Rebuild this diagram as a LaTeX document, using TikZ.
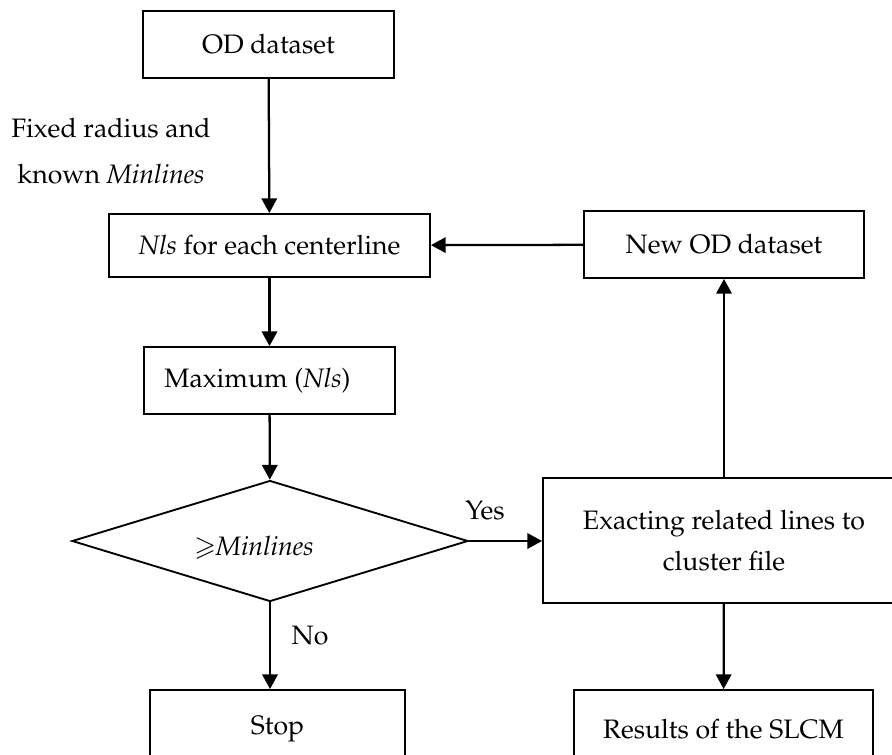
\documentclass[tikz,border=0pt]{standalone}
\usepackage[T1]{fontenc}
\usepackage{amsmath, amssymb}
\usepackage{mathpazo}
\usepackage{tikz}
\usetikzlibrary{shapes.geometric,arrows.meta}

\tikzset{
  flowbox/.style={draw, line width=1.4pt, inner sep=0.75pt, align=center,
    font=\fontsize{20}{30.75}\selectfont},
  decbox/.style={draw, diamond, line width=1.4pt, inner sep=0pt, aspect=3.27,
    minimum width=297pt, minimum height=90.75pt, font=\fontsize{20}{23}\selectfont},
  flowarrow/.style={line width=1.7pt, -{Triangle[length=11pt,width=11.5pt]}},
  txtlabel/.style={inner sep=0.75pt, align=center, font=\fontsize{20}{34.5}\selectfont}
}

\begin{document}
\begin{tikzpicture}[x=0.75pt,y=0.75pt,yscale=-1,xscale=1]
\clip (0,0) rectangle (892,754);

%Shape: Rectangle
\node [flowbox, minimum width=188.25pt, minimum height=50.25pt] (od) at (268.5,44.5) {OD dataset};
%Shape: Rectangle
\node [flowbox, minimum width=240.75pt, minimum height=47.25pt] (nls) at (269.5,245.5) {\textit{Nls} for each centerline};
%Shape: Rectangle
\node [flowbox, minimum width=210pt, minimum height=50.25pt] (newod) at (724,244.5) {New OD dataset};
%Shape: Rectangle
\node [flowbox, minimum width=188.25pt, minimum height=50.25pt] (maxnls) at (269.5,380.5) {Maximum (\textit{Nls})\hspace*{18pt}};
%Shape: Diamond
\node [decbox] (dec) at (270,541) {\raisebox{-11pt}[0pt][0pt]{$\geqslant$\textit{Minlines}}\hspace*{24pt}};
%Shape: Rectangle
\node [flowbox, minimum width=271.5pt, minimum height=93.75pt] (exact) at (724,540.5) {Exacting related lines to\\ cluster file};
%Shape: Rectangle
\node [flowbox, minimum width=191.25pt, minimum height=58.5pt] (stop) at (277.5,729) {Stop};
%Shape: Rectangle
\node [flowbox, minimum width=224.25pt, minimum height=58.5pt] (results) at (723.5,729) {Results of the SLCM};

%Straight Lines
\draw [flowarrow] (od) -- (nls);
\draw [flowarrow] (nls) -- (maxnls);
\draw [flowarrow] (maxnls) -- (dec);
\draw [flowarrow] (newod) -- (nls);
\draw [flowarrow] (dec.east) -- (exact.west |- dec.east);
\draw [flowarrow] (exact) -- (newod);
\draw [flowarrow] (exact) -- (results);
\draw [flowarrow] (dec.south) -- (dec.south |- stop.north);

% Text Node
\node [txtlabel] (fixed) at (111,151) {Fixed radius and\\ known \textit{Minlines}};
% Text Node
\node [txtlabel] (yes) at (485,511) {Yes};
% Text Node
\node [txtlabel] (no) at (310,636) {No};

\end{tikzpicture}
\end{document}
